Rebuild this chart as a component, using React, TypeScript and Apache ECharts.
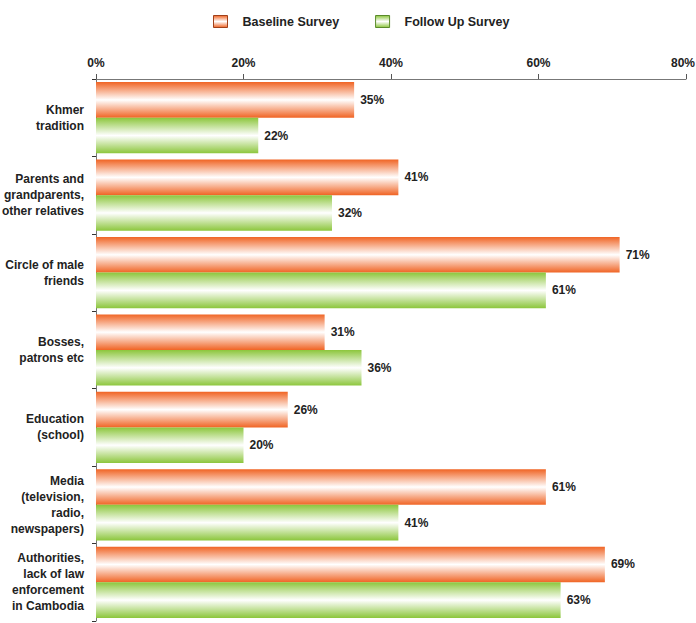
import React, { useEffect, useRef } from "react";
import * as echarts from "echarts";

const categories = [
  "Khmer\ntradition",
  "Parents and\ngrandparents,\nother relatives",
  "Circle of male\nfriends",
  "Bosses,\npatrons etc",
  "Education\n(school)",
  "Media\n(television,\nradio,\nnewspapers)",
  "Authorities,\nlack of law\nenforcement\nin Cambodia",
];
const baseline = [35, 41, 71, 31, 26, 61, 69];
const followUp = [22, 32, 61, 36, 20, 41, 63];
const seriesNames = ["Baseline Survey", "Follow Up Survey"];

const grad = (edge: string) =>
  new echarts.graphic.LinearGradient(0, 0, 0, 1, [
    { offset: 0, color: edge },
    { offset: 0.5, color: "#ffffff" },
    { offset: 1, color: edge },
  ]);

const ORANGE = "#f06424";
const GREEN = "#8cc63c";
const FONT = "Liberation Sans, Arial, sans-serif";

export default function App() {
  const ref = useRef<HTMLDivElement>(null);
  useEffect(() => {
    const chart = echarts.init(ref.current!, null, { renderer: "svg" });
    const labelStyle = {
      show: true,
      position: "right" as const,
      distance: 6,
      formatter: "{c}%",
      fontFamily: FONT,
      fontWeight: "bold" as const,
      fontSize: 12,
      color: "#222",
    };
    chart.setOption({
      animation: false,
      legend: {
        top: 10,
        left: 208,
        icon: "rect",
        itemWidth: 14,
        itemHeight: 12,
        itemGap: 36,
        textStyle: {
          fontFamily: FONT,
          fontWeight: "bold",
          fontSize: 12.5,
          color: "#222",
          padding: [0, 0, 0, 10],
        },
        data: [
          { name: seriesNames[0], itemStyle: { color: grad(ORANGE), borderColor: "#a0401a", borderWidth: 1 } },
          { name: seriesNames[1], itemStyle: { color: grad(GREEN), borderColor: "#5a8a2a", borderWidth: 1 } },
        ],
      },
      grid: { left: 96, right: 10, top: 79, bottom: 2, containLabel: false, outerBoundsMode: "none" },
      xAxis: {
        type: "value",
        position: "top",
        min: 0,
        max: 80,
        interval: 20,
        axisLine: { show: true, lineStyle: { color: "#777", width: 1 } },
        axisTick: { show: true, length: 5, lineStyle: { color: "#555" } },
        splitLine: { show: false },
        axisLabel: {
          formatter: (v: number) => (v === 80 ? "{m|80%}" : v + "%"),
          fontFamily: FONT,
          fontWeight: "bold",
          fontSize: 12,
          color: "#222",
          margin: 10,
          rich: {
            m: {
              fontFamily: FONT,
              fontWeight: "bold",
              fontSize: 12,
              color: "#222",
              padding: [0, 6, 0, 0],
            },
          },
        },
      },
      yAxis: {
        type: "category",
        inverse: true,
        data: categories,
        axisLine: { show: true, lineStyle: { color: "#777", width: 1 } },
        axisTick: { show: true, length: 4, lineStyle: { color: "#333" } },
        axisLabel: {
          fontFamily: FONT,
          fontWeight: "bold",
          fontSize: 12,
          color: "#222",
          margin: 12,
          lineHeight: 16,
          align: "right",
        },
      },
      series: [
        {
          name: seriesNames[0],
          type: "bar",
          data: baseline,
          barGap: "0%",
          barCategoryGap: "8%",
          itemStyle: { color: grad(ORANGE) },
          label: labelStyle,
        },
        {
          name: seriesNames[1],
          type: "bar",
          data: followUp,
          barGap: "0%",
          barCategoryGap: "8%",
          itemStyle: { color: grad(GREEN) },
          label: labelStyle,
        },
      ],
    });
    return () => chart.dispose();
  }, []);
  return <div ref={ref} style={{ width: 696, height: 623, position: "absolute", left: 0, top: 0 }} />;
}
